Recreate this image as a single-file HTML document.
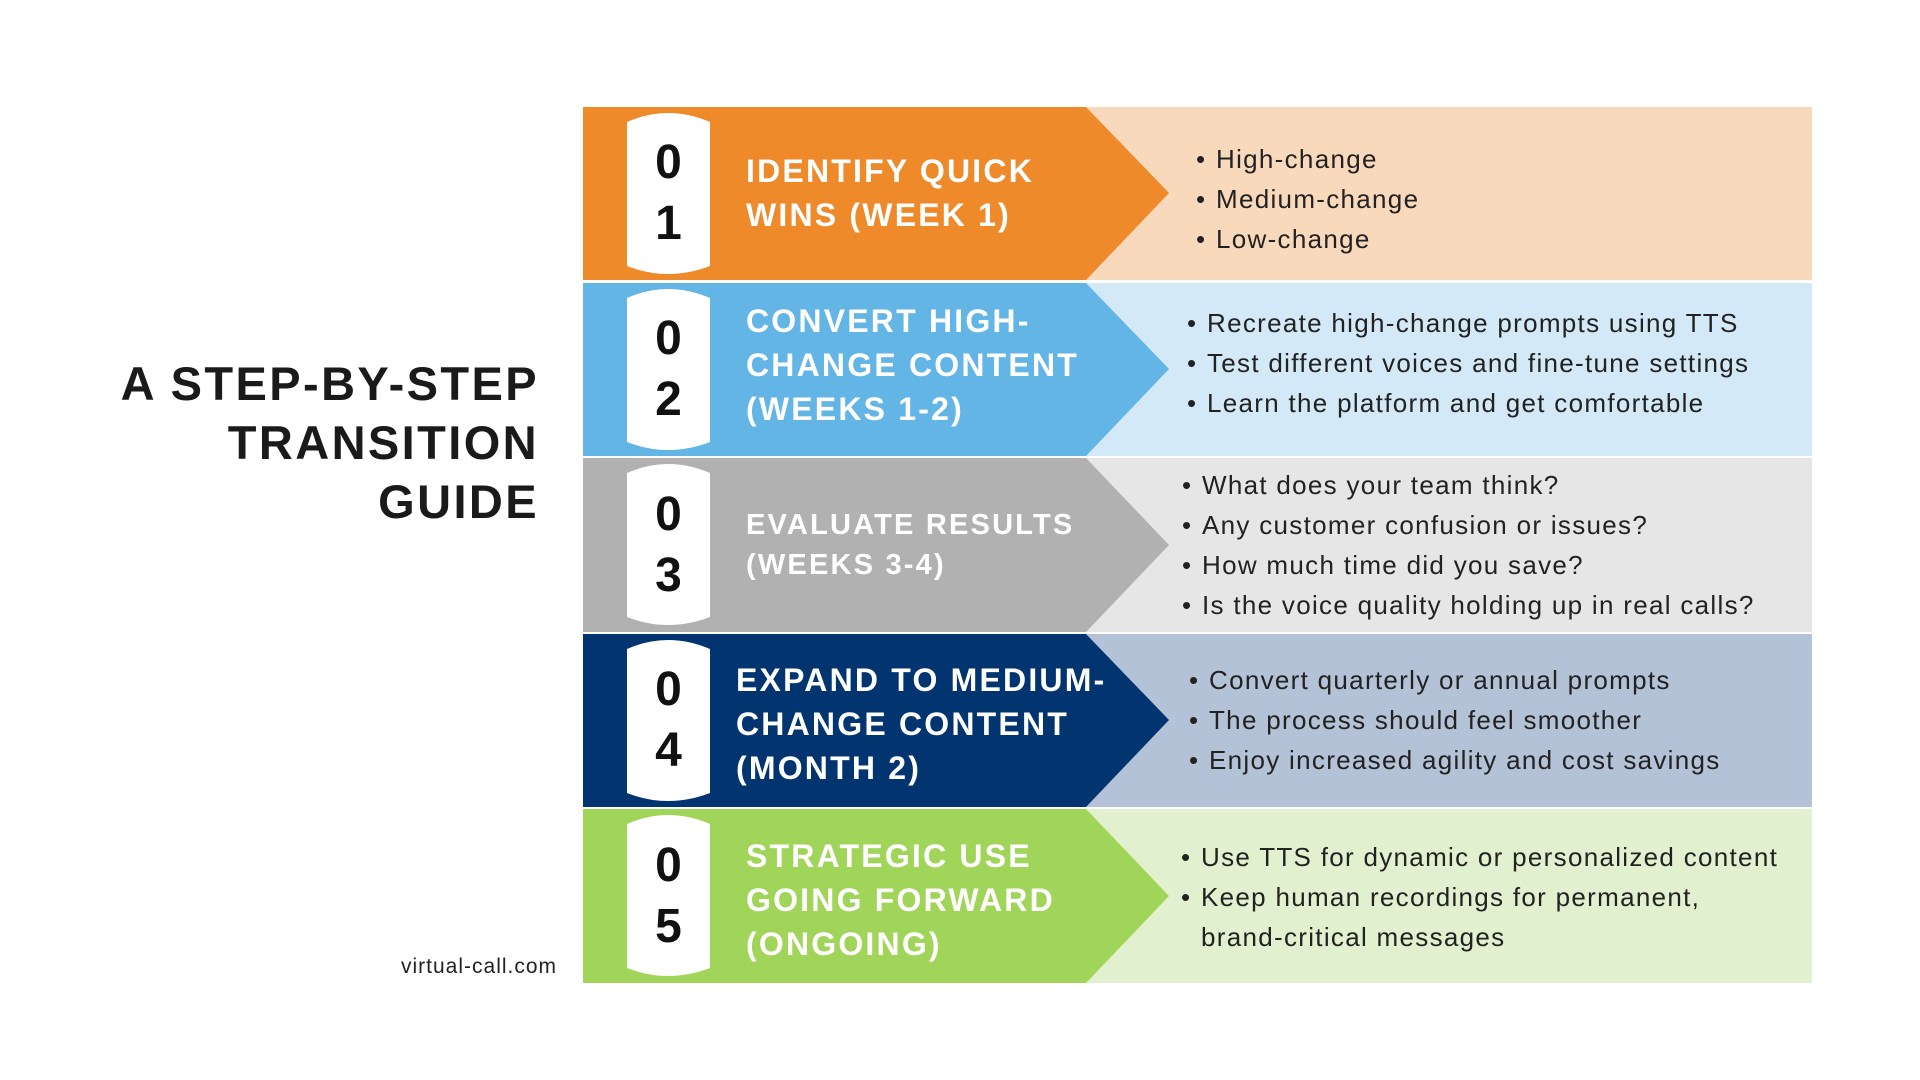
<!DOCTYPE html>
<html><head><meta charset="utf-8"><style>
body{margin:0;width:1920px;height:1080px;background:#fff;position:relative;overflow:hidden;font-family:"Liberation Sans",sans-serif}
.t{position:absolute;white-space:nowrap}
.ttl{color:#fff;font-weight:bold;font-size:32px;line-height:44px;letter-spacing:2.2px}
.dg{color:#111;font-weight:bold;font-size:48px;line-height:60px;width:83px;text-align:center}
.bl{color:#222;font-size:26px;line-height:40px;letter-spacing:1.3px}
.bl span{position:absolute;left:-20px}
.h{color:#1a1a1a;font-weight:bold;font-size:47px;line-height:59px;letter-spacing:2.4px;text-align:right;right:1381px}
</style></head><body>
<svg width="1920" height="1080" style="position:absolute;left:0;top:0">
<g>
<rect x="1086" y="107" width="726" height="173" fill="#F9D9BB"/><polygon points="583,107 1086,107 1169,193 1086,280 583,280" fill="#EE8A2A"/>
<rect x="1086" y="283" width="726" height="173" fill="#D3E9F7"/><polygon points="583,283 1086,283 1169,369 1086,456 583,456" fill="#63B5E6"/>
<rect x="1086" y="458" width="726" height="174" fill="#E6E6E6"/><polygon points="583,458 1086,458 1169,545 1086,632 583,632" fill="#B1B1B1"/>
<rect x="1086" y="634" width="726" height="173" fill="#B3C2D6"/><polygon points="583,634 1086,634 1169,720 1086,807 583,807" fill="#023570"/>
<rect x="1086" y="809" width="726" height="174" fill="#E1F1CF"/><polygon points="583,809 1086,809 1169,896 1086,983 583,983" fill="#A0D55A"/>
</g>
<g fill="#fff">
<path d="M627,122 Q668,104 710,122 L710,266 Q668,282 627,266 Z"/>
<path d="M627,298 Q668,280 710,298 L710,442 Q668,458 627,442 Z"/>
<path d="M627,473 Q668,455 710,473 L710,617 Q668,633 627,617 Z"/>
<path d="M627,649 Q668,631 710,649 L710,793 Q668,809 627,793 Z"/>
<path d="M627,824 Q668,806 710,824 L710,968 Q668,984 627,968 Z"/>
</g>
</svg>
<div class="t h" style="top:354px">A STEP-BY-STEP</div>
<div class="t h" style="top:413px">TRANSITION</div>
<div class="t h" style="top:472px">GUIDE</div>
<div class="t" style="left:401px;top:955px;font-size:21px;color:#222;letter-spacing:1px">virtual-call.com</div>

<div class="t dg" style="left:627px;top:133px">0</div><div class="t dg" style="left:627px;top:194px">1</div>
<div class="t dg" style="left:627px;top:309px">0</div><div class="t dg" style="left:627px;top:370px">2</div>
<div class="t dg" style="left:627px;top:485px">0</div><div class="t dg" style="left:627px;top:546px">3</div>
<div class="t dg" style="left:627px;top:660px">0</div><div class="t dg" style="left:627px;top:721px">4</div>
<div class="t dg" style="left:627px;top:836px">0</div><div class="t dg" style="left:627px;top:897px">5</div>

<div class="t ttl" style="left:746px;top:149px">IDENTIFY QUICK<br>WINS (WEEK 1)</div>
<div class="t ttl" style="left:746px;top:299px">CONVERT HIGH-<br>CHANGE CONTENT<br>(WEEKS 1-2)</div>
<div class="t ttl" style="left:746px;top:505px;font-size:29px;line-height:40px">EVALUATE RESULTS<br>(WEEKS 3-4)</div>
<div class="t ttl" style="left:736px;top:658px">EXPAND TO MEDIUM-<br>CHANGE CONTENT<br>(MONTH 2)</div>
<div class="t ttl" style="left:746px;top:834px">STRATEGIC USE<br>GOING FORWARD<br>(ONGOING)</div>

<div class="t bl" style="left:1216px;top:139px"><span>•</span>High-change<br><span style="top:40px">•</span>Medium-change<br><span style="top:80px">•</span>Low-change</div>
<div class="t bl" style="left:1207px;top:303px"><span>•</span>Recreate high-change prompts using TTS<br><span style="top:40px">•</span>Test different voices and fine-tune settings<br><span style="top:80px">•</span>Learn the platform and get comfortable</div>
<div class="t bl" style="left:1202px;top:465px"><span>•</span>What does your team think?<br><span style="top:40px">•</span>Any customer confusion or issues?<br><span style="top:80px">•</span>How much time did you save?<br><span style="top:120px">•</span>Is the voice quality holding up in real calls?</div>
<div class="t bl" style="left:1209px;top:660px"><span>•</span>Convert quarterly or annual prompts<br><span style="top:40px">•</span>The process should feel smoother<br><span style="top:80px">•</span>Enjoy increased agility and cost savings</div>
<div class="t bl" style="left:1201px;top:837px"><span>•</span>Use TTS for dynamic or personalized content<br><span style="top:40px">•</span>Keep human recordings for permanent,<br>brand-critical messages</div>
</body></html>
